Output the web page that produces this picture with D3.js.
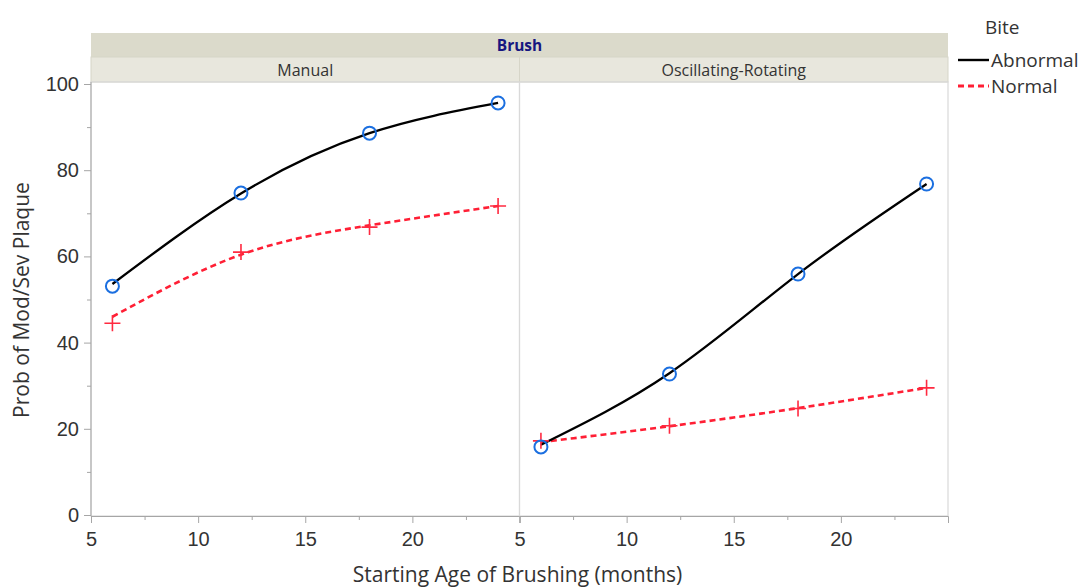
<!DOCTYPE html>
<html>
<head>
<meta charset="utf-8">
<script src="https://cdn.jsdelivr.net/npm/d3@7"></script>
<style>
  body { margin: 0; background: #fff; }
  svg { font-family: "Open Sans", "Noto Sans", sans-serif; }
</style>
</head>
<body>
<svg id="chart" width="1080" height="588"></svg>
<script>
const panels = ["Manual", "Oscillating-Rotating"];
const ages = [6, 12, 18, 24];
const manualAbnormal = [53.1, 74.7, 88.6, 95.6];
const manualNormal = [44.5, 61.0, 66.8, 71.7];
const oscAbnormal = [15.8, 32.7, 55.9, 76.8];
const oscNormal = [17.2, 20.7, 24.7, 29.5];
const manualAbnormalFit = [53.6, 74.6, 88.6, 95.6];
const manualNormalFit = [46.0, 60.4, 67.2, 71.7];
const oscAbnormalFit = [16.3, 32.9, 55.9, 76.8];
const oscNormalFit = [16.9, 20.6, 24.8, 29.5];
const xTicks = [5, 10, 15, 20];
const xMinor = [7.5, 12.5, 17.5, 22.5];
const yTicks = [0, 20, 40, 60, 80, 100];
const yMinor = [10, 30, 50, 70, 90];
const seriesNames = ["Abnormal", "Normal"];

const series = {
  "Manual": { Abnormal: manualAbnormal, Normal: manualNormal, AbnormalFit: manualAbnormalFit, NormalFit: manualNormalFit },
  "Oscillating-Rotating": { Abnormal: oscAbnormal, Normal: oscNormal, AbnormalFit: oscAbnormalFit, NormalFit: oscNormalFit }
};

const svg = d3.select("#chart");
const plotL = 91, plotR = 948, plotT = 82, plotB = 516;
const panelW = (plotR - plotL) / panels.length;

const y = d3.scaleLinear().domain([0, 100]).range([515, 84]);
const grey = "#a6a6a6";
const txt = "#333";

// strips
svg.append("rect").attr("x", plotL).attr("y", 33).attr("width", plotR - plotL).attr("height", 24)
  .attr("fill", "#dbdacb");
svg.append("text").attr("x", (plotL + plotR) / 2).attr("y", 51).attr("text-anchor", "middle")
  .attr("font-size", 15.5).attr("font-weight", "bold").attr("fill", "#161680").text("Brush");

panels.forEach((p, i) => {
  const x0 = plotL + i * panelW;
  const x = d3.scaleLinear().domain([5, 25]).range([x0, x0 + panelW]);

  svg.append("rect").attr("x", x0).attr("y", 57).attr("width", panelW).attr("height", 25)
    .attr("fill", "#e8e7dd").attr("stroke", "#d6d5c8").attr("stroke-width", 1);
  svg.append("text").attr("x", x0 + panelW / 2).attr("y", 76).attr("text-anchor", "middle")
    .attr("font-size", 16).attr("fill", txt).text(p);

  // frame
  svg.append("rect").attr("x", x0).attr("y", plotT).attr("width", panelW).attr("height", plotB - plotT)
    .attr("fill", "none").attr("stroke", "#d9d9d9").attr("stroke-width", 1.2);

  // x axis
  const ax = svg.append("g").attr("transform", `translate(0,${plotB})`);
  ax.call(d3.axisBottom(x).tickValues(xTicks).tickSize(7).tickPadding(9).tickFormat(d3.format("d")));
  ax.select(".domain").attr("stroke", grey);
  ax.selectAll(".tick line").attr("stroke", grey);
  ax.selectAll("text").attr("font-size", 20).attr("fill", txt).attr("font-family", "inherit");
  const mx = svg.append("g").attr("transform", `translate(0,${plotB})`);
  mx.call(d3.axisBottom(x).tickValues(xMinor).tickSize(4).tickFormat(""));
  mx.select(".domain").remove();
  mx.selectAll(".tick line").attr("stroke", grey);

  const line = d3.line().x((d, k) => x(ages[k])).y(d => y(d)).curve(d3.curveNatural);
  const g = svg.append("g");

  g.append("path").datum(series[p].NormalFit).attr("d", line).attr("fill", "none")
    .attr("stroke", "#ff1f35").attr("stroke-width", 2.6).attr("stroke-dasharray", "6,4");
  g.append("path").datum(series[p].AbnormalFit).attr("d", line).attr("fill", "none")
    .attr("stroke", "#000").attr("stroke-width", 2.3);

  g.selectAll(".plus").data(series[p].Normal).enter().append("path").attr("class", "plus")
    .attr("d", (d, k) => {
      const cx = x(ages[k]), cy = y(d), s = 8;
      return `M${cx - s},${cy}H${cx + s}M${cx},${cy - s}V${cy + s}`;
    })
    .attr("stroke", "#ff2a40").attr("stroke-width", 1.6).attr("fill", "none");
  g.selectAll(".circ").data(series[p].Abnormal).enter().append("circle").attr("class", "circ")
    .attr("cx", (d, k) => x(ages[k])).attr("cy", d => y(d)).attr("r", 6.5)
    .attr("fill", "none").attr("stroke", "#1b6fe0").attr("stroke-width", 2);
});

// y axis
const ay = svg.append("g").attr("transform", `translate(${plotL},0)`);
ay.call(d3.axisLeft(y).tickValues(yTicks).tickSize(7).tickPadding(5));
ay.select(".domain").attr("stroke", grey).attr("d", `M0,${plotT}V${plotB}`);
ay.selectAll(".tick line").attr("stroke", grey);
ay.selectAll("text").attr("font-size", 20).attr("fill", txt).attr("font-family", "inherit");
const my = svg.append("g").attr("transform", `translate(${plotL},0)`);
my.call(d3.axisLeft(y).tickValues(yMinor).tickSize(4).tickFormat(""));
my.select(".domain").remove();
my.selectAll(".tick line").attr("stroke", grey);

// titles
svg.append("text").attr("x", (plotL + plotR) / 2 - 2).attr("y", 582).attr("text-anchor", "middle")
  .attr("font-size", 21).attr("fill", txt).text("Starting Age of Brushing (months)");
svg.append("text").attr("transform", "translate(29,300) rotate(-90)").attr("text-anchor", "middle")
  .attr("font-size", 21).attr("fill", txt).text("Prob of Mod/Sev Plaque");

// legend
const lg = svg.append("g");
lg.append("text").attr("x", 985).attr("y", 34).attr("font-size", 19).attr("fill", txt).text("Bite");
seriesNames.forEach((s, i) => {
  const yy = 60 + i * 26;
  lg.append("line").attr("x1", 958).attr("x2", 989).attr("y1", yy).attr("y2", yy)
    .attr("stroke", i === 0 ? "#000" : "#ff1f35").attr("stroke-width", i === 0 ? 2.4 : 2.8)
    .attr("stroke-dasharray", i === 0 ? null : "6,4");
  lg.append("text").attr("x", 991).attr("y", yy + 7).attr("font-size", 19).attr("fill", txt).text(s);
});
</script>
</body>
</html>
